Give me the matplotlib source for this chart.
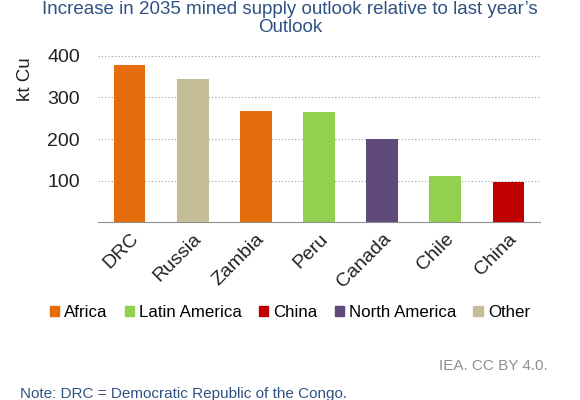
import matplotlib.pyplot as plt
from matplotlib.patches import Patch

plt.rcParams["font.family"] = ["Liberation Sans", "DejaVu Sans"]

countries = ["DRC", "Russia", "Zambia", "Peru", "Canada", "Chile", "China"]
values = [378, 345, 268, 266, 200, 111, 96]
regions = ["Africa", "Other", "Africa", "Latin America", "North America", "Latin America", "China"]

region_names = ["Africa", "Latin America", "China", "North America", "Other"]
region_colors = ["#e46c0a", "#92d050", "#c00000", "#604a7b", "#c4bd97"]
cmap = dict(zip(region_names, region_colors))

fig = plt.figure(figsize=(5.8, 4.0), dpi=100)
ax = fig.add_axes([0.169, 0.445, 0.762, 0.415])

x = range(len(countries))
ax.bar(x, values, width=0.5, color=[cmap[r] for r in regions], zorder=3)
ax.set_xlim(-0.5, len(countries) - 0.5)
ax.set_ylim(0, 400)
ax.set_yticks([100, 200, 300, 400])
ax.yaxis.grid(True, linestyle=(0, (1, 2)), color="#a0a0a0", linewidth=0.8)
ax.set_axisbelow(True)
for s in ["top", "right", "left"]:
    ax.spines[s].set_visible(False)
ax.spines["bottom"].set_color("#909090")
ax.tick_params(axis="both", length=0, labelsize=14, colors="#222222")
ax.tick_params(axis="y", pad=13)
ax.tick_params(axis="x", pad=6)
ax.set_xticks(list(x))
ax.set_xticklabels(countries, rotation=45, ha="right", rotation_mode="anchor")
ax.set_ylabel("kt Cu", fontsize=13.5, color="#222222")
ax.yaxis.set_label_coords(-0.145, 0.86)

fig.text(0.5, 0.997, "Increase in 2035 mined supply outlook relative to last year\u2019s\nOutlook",
         ha="center", va="top", fontsize=13.5, color="#2f5283", linespacing=1.05)

handles = [Patch(color=c) for c in region_colors]
fig.legend(handles, region_names, loc="center", bbox_to_anchor=(0.5, 0.218), ncol=5,
           frameon=False, fontsize=12.2, handlelength=0.55, handleheight=0.55,
           handletextpad=0.3, columnspacing=1.0)

fig.text(0.945, 0.085, "IEA. CC BY 4.0.", ha="right", va="center", fontsize=11, color="#909090")
fig.text(0.035, 0.015, "Note: DRC = Democratic Republic of the Congo.", ha="left", va="center",
         fontsize=11, color="#2f5283")

fig.savefig("out.png", dpi=100)
